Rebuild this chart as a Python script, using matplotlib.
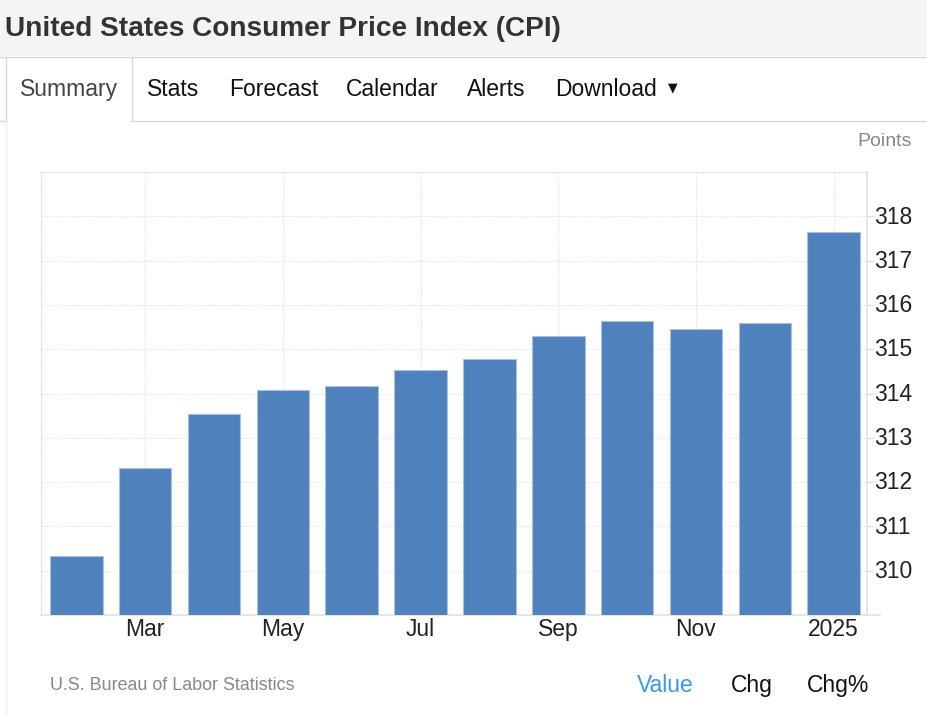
import matplotlib
matplotlib.use("Agg")
import matplotlib.pyplot as plt
import matplotlib.transforms as mtransforms
from matplotlib.patches import Rectangle
from matplotlib.lines import Line2D

plt.rcParams['font.family'] = ['Liberation Sans', 'DejaVu Sans']

# ---- data ----
months = ['Feb', 'Mar', 'Apr', 'May', 'Jun', 'Jul', 'Aug', 'Sep', 'Oct', 'Nov', 'Dec', 'Jan']
values = [310.33, 312.31, 313.53, 314.08, 314.18, 314.52, 314.78, 315.29, 315.63, 315.46, 315.60, 317.65]
tick_pos = [1, 3, 5, 7, 9, 11]
tick_labels = ['Mar', 'May', 'Jul', 'Sep', 'Nov', '2025']
y_ticks = [310, 311, 312, 313, 314, 315, 316, 317, 318]

W, H = 927, 715
fig = plt.figure(figsize=(W / 100, H / 100), dpi=100)
fig.patch.set_facecolor('white')

def fx(x):
    return x / W

def fy(y):
    return 1 - y / H

# header background
fig.patches.append(Rectangle((0, fy(56)), 1, 56 / H, transform=fig.transFigure,
                             facecolor='#f4f4f4', edgecolor='none', zorder=0))
def hline(x0, x1, y, c='#d8d8d8', lw=1.0):
    fig.lines.append(Line2D([fx(x0), fx(x1)], [fy(y), fy(y)], transform=fig.transFigure,
                            color=c, lw=lw))
def vline(x, y0, y1, c='#d8d8d8', lw=1.0):
    fig.lines.append(Line2D([fx(x), fx(x)], [fy(y0), fy(y1)], transform=fig.transFigure,
                            color=c, lw=lw))

hline(0, W, 56.5)
hline(0, 5, 120.5)
hline(131, W, 120.5)
vline(5.5, 56.5, 120.5)
vline(131.5, 56.5, 120.5)
vline(5.5, 120.5, H, c='#eeeeee')

fig.text(fx(5), fy(29.5), 'United States Consumer Price Index (CPI)', fontsize=20.2,
         fontweight='bold', color='#333333', ha='left', va='center')

tabs = [('Summary', 20, '#444444'), ('Stats', 147, '#111111'), ('Forecast', 229, '#111111'),
        ('Calendar', 346, '#111111'), ('Alerts', 467, '#111111'), ('Download', 555, '#111111')]
for t, x, c in tabs:
    fig.text(fx(x), fy(89.5), t, fontsize=16.5, color=c, ha='left', va='center')
fig.text(fx(672.5), fy(87.5), '\u25BC', fontsize=9, color='#111111', ha='center', va='center',
         family=['DejaVu Sans'])

fig.text(fx(912), fy(142), 'Points', fontsize=14, color='#888888', ha='right', va='center')

# ---- chart ----
ax = fig.add_axes([fx(41), fy(615), (867 - 41) / W, (615 - 172) / H])
x = list(range(len(values)))
ax.bar(x, values, width=0.763, color='#4f81bd', edgecolor='#a9c0de', linewidth=0.8,
       zorder=3, bottom=0)
ax.set_ylim(309, 319)
ax.set_xlim(-0.513, 11.484)

ax.set_xticks(tick_pos)
ax.set_xticklabels(tick_labels)
ax.set_yticks(y_ticks)
ax.set_yticklabels([str(v) for v in y_ticks])
ax.yaxis.tick_right()
ax.tick_params(axis='x', length=0, pad=2.5, labelsize=16.5, labelcolor='#222222')
ax.tick_params(axis='y', length=4, width=1, color='#dddddd', pad=1, labelsize=16.5,
               labelcolor='#222222')
shift = mtransforms.ScaledTranslation(0, 1.8 / 100, fig.dpi_scale_trans)
for lbl in ax.get_yticklabels():
    lbl.set_transform(lbl.get_transform() + shift)

ax.grid(True, which='major', color='#dcdcdc', linestyle=(0, (1, 1.5)), linewidth=0.8, zorder=0)
ax.set_axisbelow(True)

for s in ['left', 'top']:
    ax.spines[s].set_color('#dcdcdc')
    ax.spines[s].set_linestyle((0, (1, 1.5)))
    ax.spines[s].set_linewidth(0.8)
ax.spines['right'].set_color('#e2e2e2')
ax.spines['right'].set_linewidth(1.2)
ax.spines['bottom'].set_color('#e2e2e2')
ax.spines['bottom'].set_linewidth(1.2)
ax.set_facecolor('white')
hline(867, 880, 615, c='#e2e2e2', lw=1.2)

# ---- footer ----
fig.text(fx(50), fy(685.5), 'U.S. Bureau of Labor Statistics', fontsize=12.9, color='#888888',
         ha='left', va='center')
fig.text(fx(665), fy(685.5), 'Value', fontsize=16.5, color='#3a97f0', ha='center', va='center')
fig.text(fx(751.5), fy(685.5), 'Chg', fontsize=16.5, color='#111111', ha='center', va='center')
fig.text(fx(838), fy(685.5), 'Chg%', fontsize=16.5, color='#111111', ha='center', va='center')

fig.savefig('out.png', dpi=100)
